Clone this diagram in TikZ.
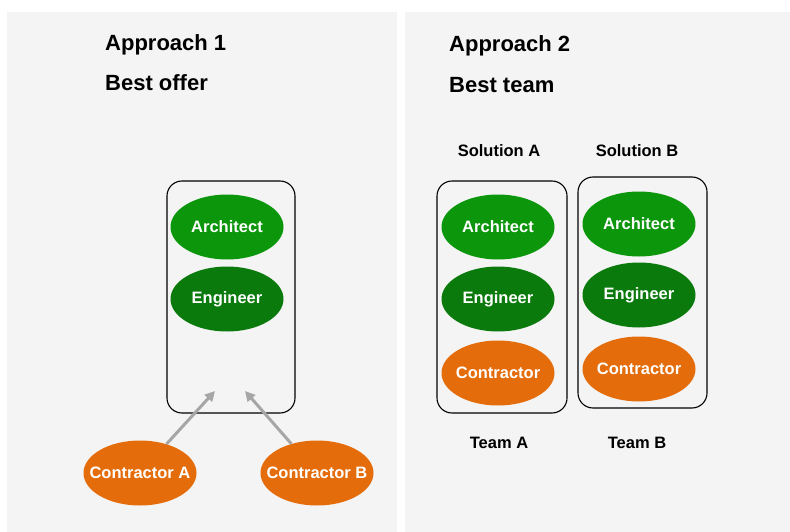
\documentclass[tikz,border=0pt]{standalone}
\usepackage{fontspec}
\setmainfont{Liberation Sans}
\usepackage{tikz}
\usetikzlibrary{shapes.geometric, arrows.meta, positioning}
\definecolor{panelgray}{RGB}{244, 244, 244}
\definecolor{architectgreen}{RGB}{12, 150, 12}
\definecolor{engineergreen}{RGB}{10, 122, 12}
\definecolor{contractororange}{RGB}{228, 108, 10}
\definecolor{arrowgray}{RGB}{166, 166, 166}

\begin{document}
\begin{tikzpicture}[
    x=1pt, y=-1pt,
    role/.style={ellipse, minimum width=113pt, minimum height=65pt, inner sep=0pt, text=white, font=\fontsize{16.5}{18}\selectfont\bfseries,
        execute at begin node={\hbox to 0pt\bgroup\hss}, execute at end node={\hss\egroup}},
    teambox/.style={rectangle, rounded corners=15pt, draw=black, line width=1.1pt},
    title/.style={anchor=base west, inner sep=0pt, font=\fontsize{22}{24}\selectfont\bfseries},
    caption/.style={anchor=base, font=\fontsize{16.5}{18}\selectfont\bfseries},
    arrow/.style={-{Triangle[length=10pt, width=10pt]}, line width=3pt, arrowgray}
]
    \useasboundingbox (0,0) rectangle (790,532);
    \fill[white] (0,0) rectangle (790,532);

    % Panels
    \fill[panelgray] (7,12) rectangle (397,532);
    \fill[panelgray] (405,12) rectangle (790,532);

    % Approach 1
    \node[title] (approachA) at (105,51) {Approach 1};
    \node[title] (bestOffer) at (105,91) {Best offer};

    \node[teambox, minimum width=128pt, minimum height=232pt] (offerBox) at (231,297) {};
    \node[role, fill=architectgreen] (offerArchitect) at (227,227) {Architect};
    \node[role, fill=engineergreen] (offerEngineer) at (227,299) {Engineer};

    \node[role, fill=contractororange] (contractorA) at (140,473) {Contractor A};
    \node[role, fill=contractororange] (contractorB) at (317,473) {Contractor B};

    \coordinate (tipA) at (215,391);
    \coordinate (tipB) at (245,391);
    \draw[arrow] (contractorA) -- (tipA);
    \draw[arrow] (contractorB) -- (tipB);

    % Approach 2
    \node[title] (approachB) at (449,52) {Approach 2};
    \node[title] (bestTeam) at (449,93) {Best team};

    \node[caption] (solutionA) at (499,157) {Solution A};
    \node[caption] (solutionB) at (637,157) {Solution B};

    \node[teambox, minimum width=130pt, minimum height=232pt] (teamBoxA) at (502,297) {};
    \node[role, fill=architectgreen] (architectA) at (498,227) {Architect};
    \node[role, fill=engineergreen] (engineerA) at (498,299) {Engineer};
    \node[role, fill=contractororange] (contractorTeamA) at (498,373) {Contractor};

    \node[teambox, minimum width=129pt, minimum height=231pt] (teamBoxB) at (642.5,292.5) {};
    \node[role, fill=architectgreen] (architectB) at (639,224) {Architect};
    \node[role, fill=engineergreen] (engineerB) at (639,295) {Engineer};
    \node[role, fill=contractororange] (contractorTeamB) at (639,369) {Contractor};

    \node[caption] (teamA) at (499,448) {Team A};
    \node[caption] (teamB) at (637,448) {Team B};

\end{tikzpicture}
\end{document}
